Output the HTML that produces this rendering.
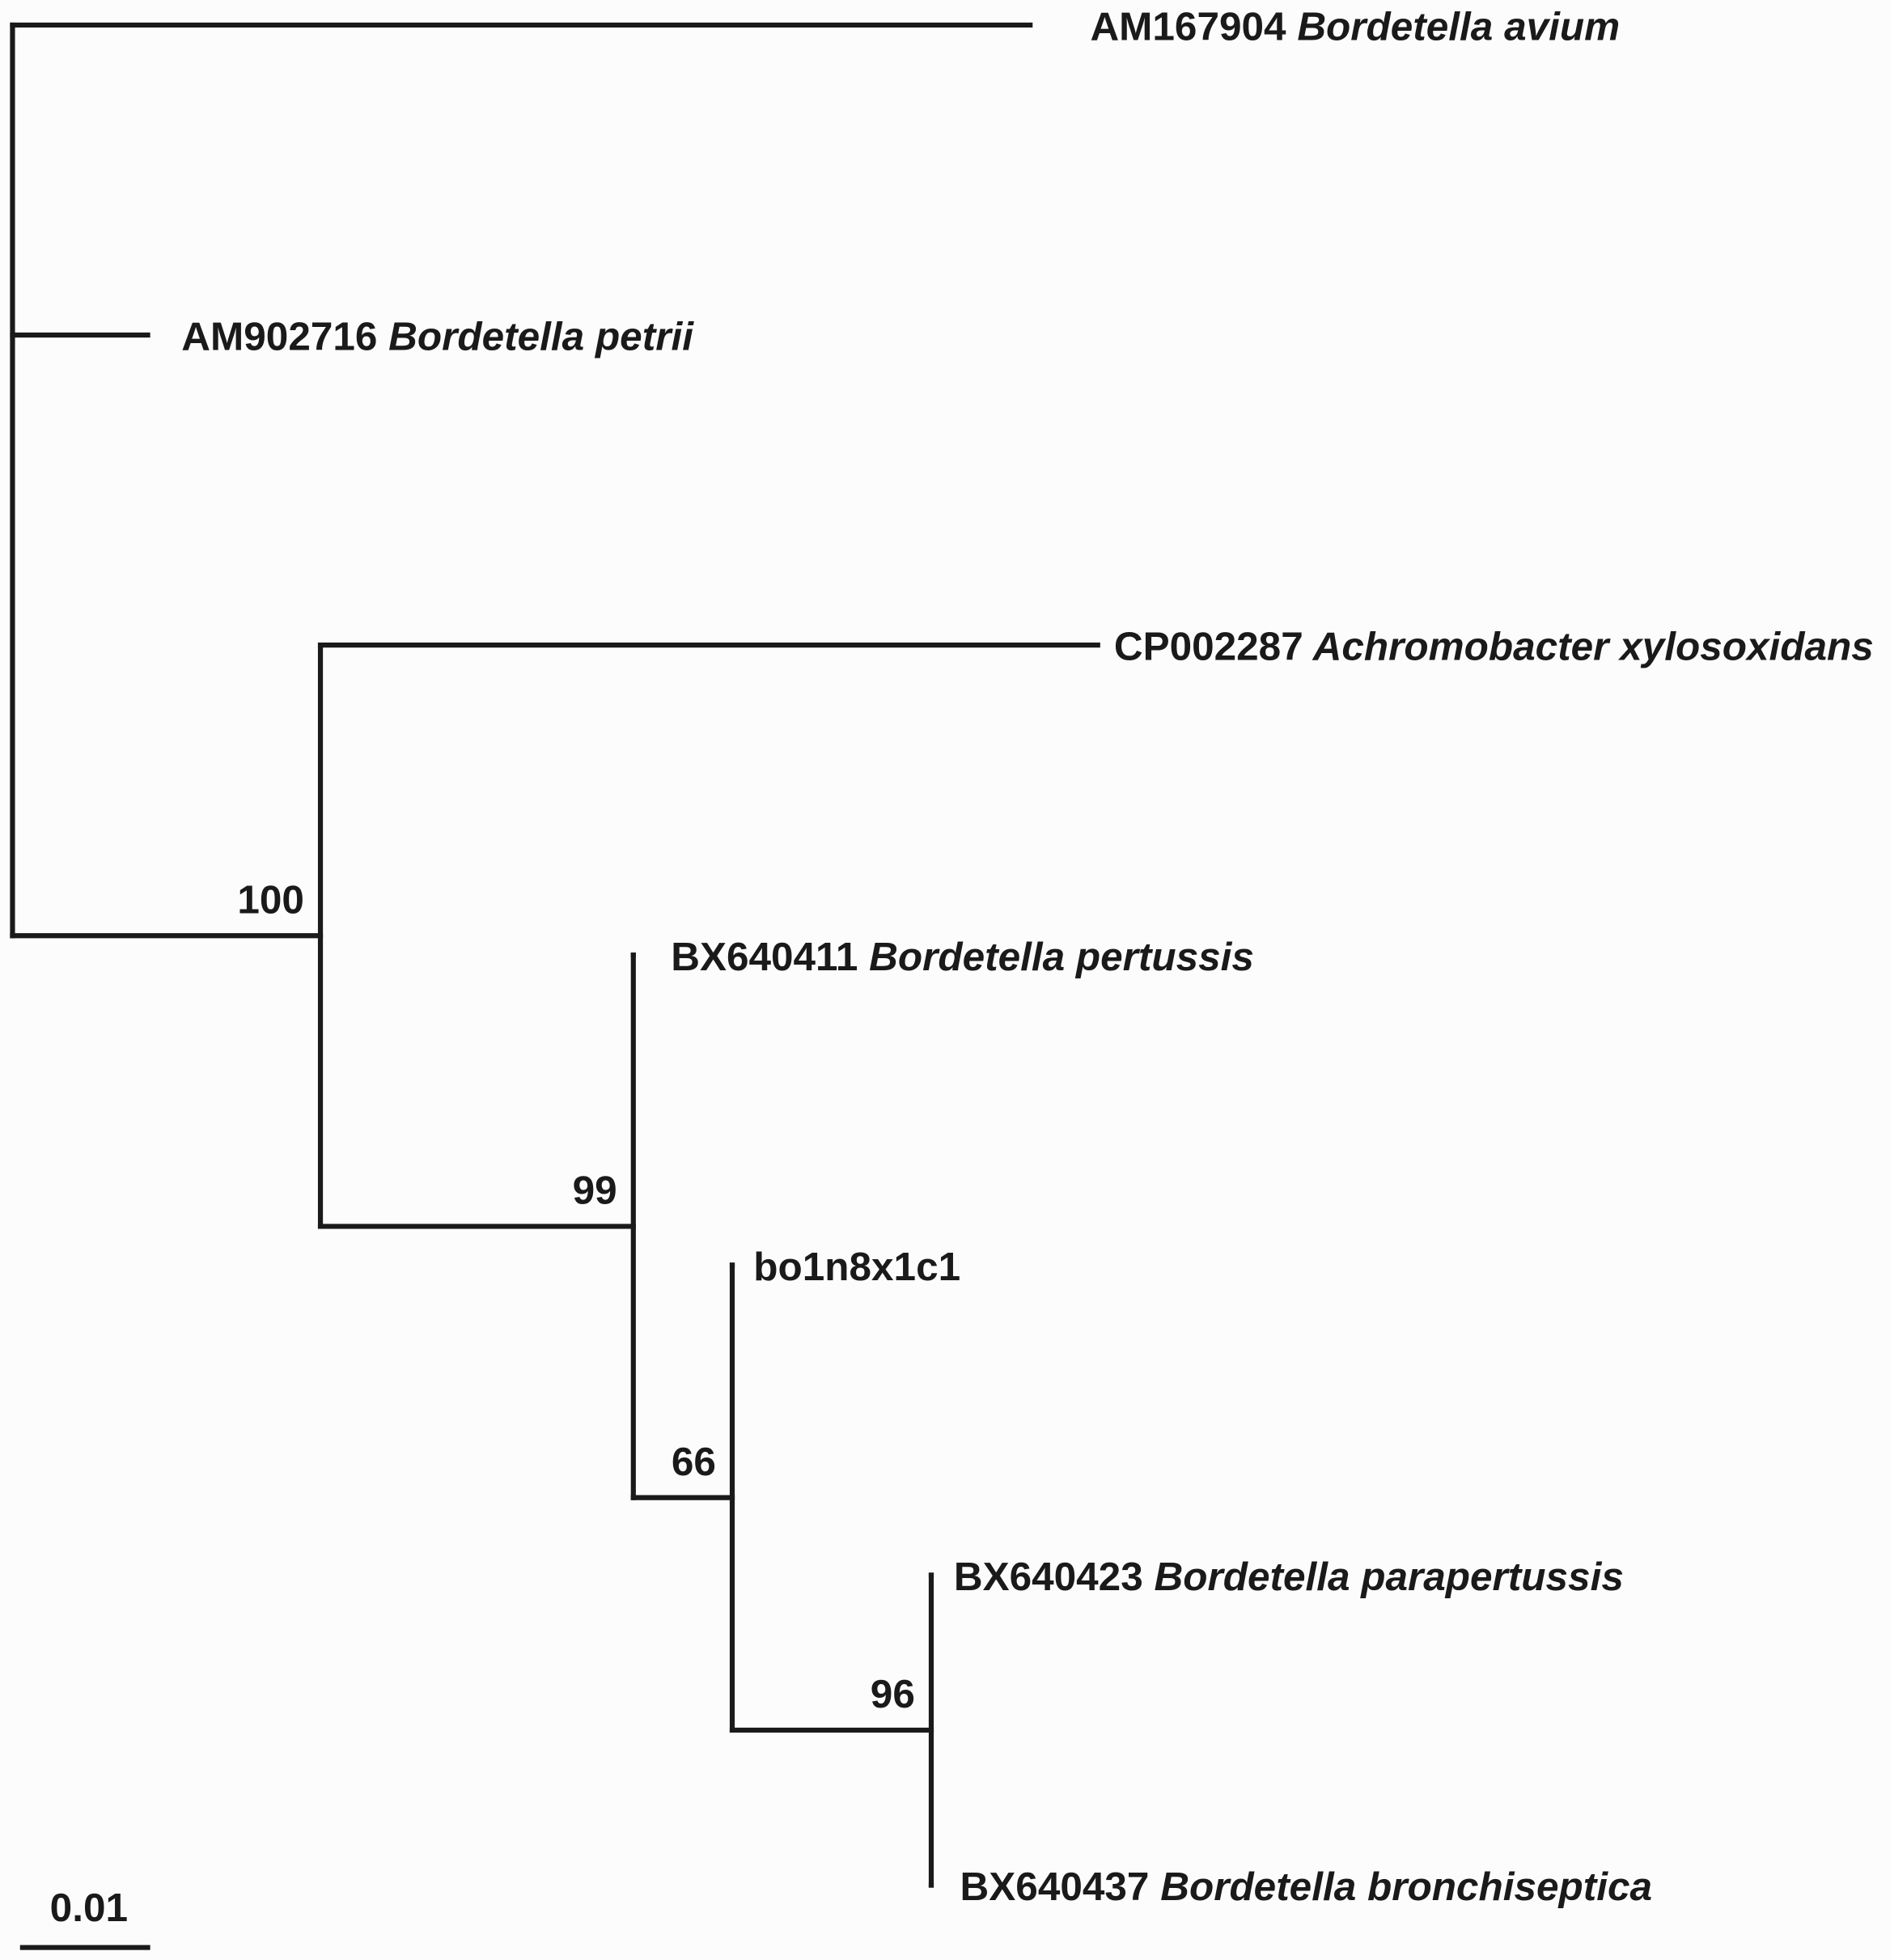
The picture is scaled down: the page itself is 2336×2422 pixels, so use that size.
<!DOCTYPE html>
<html><head><meta charset="utf-8"><style>
html,body{margin:0;padding:0;background:#fcfcfc;}
svg{display:block;}
text{font-family:"Liberation Sans",Arial,sans-serif;font-weight:bold;font-size:32px;fill:#1a1a1a;}
</style></head><body>
<svg id="tree" width="2336" height="2422" viewBox="0 0 1510 1566" preserveAspectRatio="none" xmlns="http://www.w3.org/2000/svg">
<rect width="1510" height="1566" fill="#fcfcfc"/>
</svg>
<script>
// Tree data: node ids, parents, cumulative distances from root, labels
const nodeIds = ['root','avium','petrii','n100','achro','n99','pertussis','n66','bo','n96','para','bronch'];
const parents = [null,'root','root','root','n100','n100','n99','n99','n66','n66','n96','n96'];
const distances = [0,0.0813,0.0108,0.0246,0.0867,0.0496,0.0496,0.0575,0.0575,0.0734,0.0734,0.0734];
const accessions = ['','AM167904','AM902716','','CP002287','','BX640411','','bo1n8x1c1','','BX640423','BX640437'];
const species = ['','Bordetella avium','Bordetella petrii','','Achromobacter xylosoxidans','','Bordetella pertussis','','','','Bordetella parapertussis','Bordetella bronchiseptica'];
const bootstraps = ['','','','100','','99','','66','','96','',''];
const scaleBarValue = 0.01;
const scaleBarLabel = '0.01';
// label gap (style only)
const labelGap = {avium:48, petrii:27, achro:13, pertussis:30, bo:17, para:18, bronch:23};

const svg = document.getElementById('tree');
const NS = 'http://www.w3.org/2000/svg';
const xScale = d => 10 + d * 10000;
const leafY = i => 20 + i * 247.7;

const idx = {}; nodeIds.forEach((id,i)=>idx[id]=i);
const children = {}; nodeIds.forEach(id=>children[id]=[]);
parents.forEach((p,i)=>{ if(p) children[p].push(nodeIds[i]); });
const yPos = {}; let leafCount = 0;
function layout(id){
  const ch = children[id];
  if(!ch.length){ yPos[id] = leafY(leafCount++); return yPos[id]; }
  const ys = ch.map(layout);
  yPos[id] = (ys[0] + ys[ys.length-1]) / 2;
  if(id==='root') yPos[id] = yPos[ch[ch.length-1]];
  return yPos[id];
}
layout('root');

function line(x1,y1,x2,y2,name){
  const l = document.createElementNS(NS,'line');
  l.setAttribute('x1',x1);l.setAttribute('y1',y1);l.setAttribute('x2',x2);l.setAttribute('y2',y2);
  l.setAttribute('stroke','#1a1a1a');l.setAttribute('stroke-width','4');l.setAttribute('stroke-linecap','square');
  
  
  svg.appendChild(l);
}
function text(x,y,anchor,name){
  const t = document.createElementNS(NS,'text');
  t.setAttribute('x',x);t.setAttribute('y',y);t.setAttribute('text-anchor',anchor);
  
  
  svg.appendChild(t); return t;
}

nodeIds.forEach((id,i)=>{
  const x = xScale(distances[i]);
  const ch = children[id];
  if(parents[i]){
    line(xScale(distances[idx[parents[i]]]), yPos[id], x, yPos[id], 'branch-'+id);
  }
  if(ch.length){
    line(x, yPos[ch[0]], x, yPos[ch[ch.length-1]], 'clade-'+id);
    if(bootstraps[i]){
      const t = text(x-13, yPos[id]-18, 'end', 'bootstrap-'+id);
      t.textContent = bootstraps[i];
    }
  } else {
    const t = text(x + (labelGap[id]||20), yPos[id]+12, 'start', 'leaf-label-'+id);
    const a = document.createElementNS(NS,'tspan'); a.textContent = accessions[i]; t.appendChild(a);
    if(species[i]){
      const s = document.createElementNS(NS,'tspan'); s.setAttribute('font-style','italic');
      s.textContent = ' ' + species[i]; t.appendChild(s);
    }
  }
});
// scale bar
line(18, 1556, 18 + scaleBarValue*10000, 1556, 'scale-bar');
const sl = text(18 + scaleBarValue*5300, 1535, 'middle', 'scale-bar-label');
sl.textContent = scaleBarLabel;
</script>
</body></html>
